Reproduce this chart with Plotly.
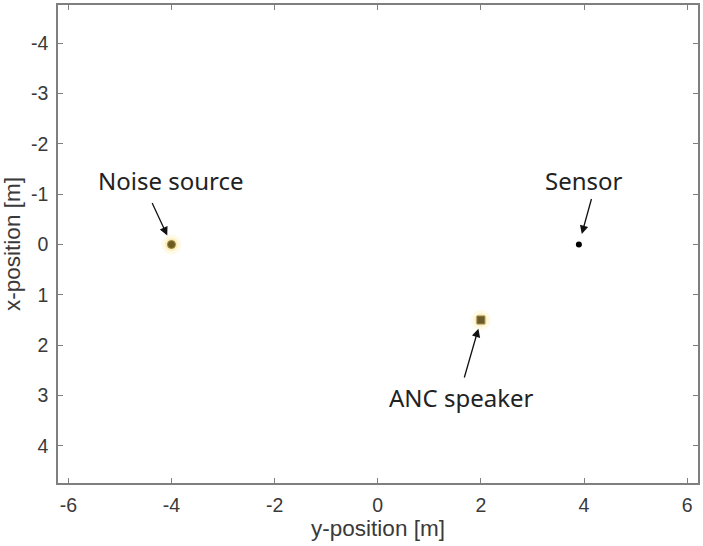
import plotly.graph_objects as go

# Positions of the elements in the room (horizontal = y-position, vertical = x-position)
names = ["Noise source", "ANC speaker", "Sensor"]
y_pos = [-4.0, 2.0, 3.9]
x_pos = [0.0, 1.5, 0.0]

x_ticks = [-6, -4, -2, 0, 2, 4, 6]
y_ticks = [-4, -3, -2, -1, 0, 1, 2, 3, 4]

fig = go.Figure()

# soft glow around the loudspeakers
fig.add_trace(go.Scatter(
    x=y_pos[:2], y=x_pos[:2], mode="markers",
    marker=dict(size=20, color="rgba(255,230,130,0.18)", line=dict(width=0)),
    hoverinfo="skip", showlegend=False))
fig.add_trace(go.Scatter(
    x=y_pos[:2], y=x_pos[:2], mode="markers",
    marker=dict(size=13, color="rgba(245,215,100,0.35)", line=dict(width=0)),
    hoverinfo="skip", showlegend=False))
# noise source
fig.add_trace(go.Scatter(
    x=[y_pos[0]], y=[x_pos[0]], mode="markers",
    marker=dict(size=8, symbol="circle", color="#6b5a22",
                line=dict(width=1, color="#a08a40")),
    showlegend=False))
# ANC speaker
fig.add_trace(go.Scatter(
    x=[y_pos[1]], y=[x_pos[1]], mode="markers",
    marker=dict(size=8, symbol="square", color="#6b5a2a",
                line=dict(width=1, color="#9a8850")),
    showlegend=False))
# sensor
fig.add_trace(go.Scatter(
    x=[y_pos[2]], y=[x_pos[2]], mode="markers",
    marker=dict(size=6, symbol="circle", color="black"),
    showlegend=False))

label_font = dict(family="Noto Sans, Noto Sans CJK SC, sans-serif", size=24, color="#222222")

# labels
label_pos = [(-4.0, -1.27), (1.62, 3.05), (4.0, -1.27)]
for name, (lx, ly) in zip(names, label_pos):
    fig.add_annotation(x=lx, y=ly, text=name, showarrow=False, font=label_font)

# arrows pointing at each element
arrow_offsets = [(-20, -43, 10), (-17, 59, 9), (13, -47, 11)]
for px, py, (ax, ay, so) in zip(y_pos, x_pos, arrow_offsets):
    fig.add_annotation(x=px, y=py, text="", showarrow=True, ax=ax, ay=ay,
                       arrowhead=2, arrowsize=1.3, arrowwidth=1.3,
                       arrowcolor="#111111", standoff=so)

tick_font = dict(family="Liberation Sans, Arial, sans-serif", size=19.5, color="#3a3a3a")
title_font = dict(family="Liberation Sans, Arial, sans-serif", size=22.5, color="#3a3a3a")

axis_common = dict(
    showline=True, linecolor="#7f7f7f", linewidth=1.5, mirror="ticks",
    ticks="inside", ticklen=5, tickwidth=1, tickcolor="#7f7f7f",
    showgrid=False, zeroline=False, tickfont=tick_font,
)

fig.update_xaxes(
    range=[-6.2, 6.21], tickvals=x_ticks, ticktext=[str(v) for v in x_ticks],
    ticklabelstandoff=4,
    title=dict(text="y-position [m]", standoff=2, font=title_font),
    **axis_common)
fig.update_yaxes(
    range=[4.74, -4.76], tickvals=y_ticks, ticktext=[str(v) for v in y_ticks],
    ticklabelstandoff=4,
    title=dict(text="x-position [m]", standoff=4, font=title_font),
    **axis_common)

fig.update_layout(
    width=703, height=546,
    margin=dict(l=58, r=3, t=5, b=63),
    paper_bgcolor="white", plot_bgcolor="white",
)

fig.write_html("out.html")
